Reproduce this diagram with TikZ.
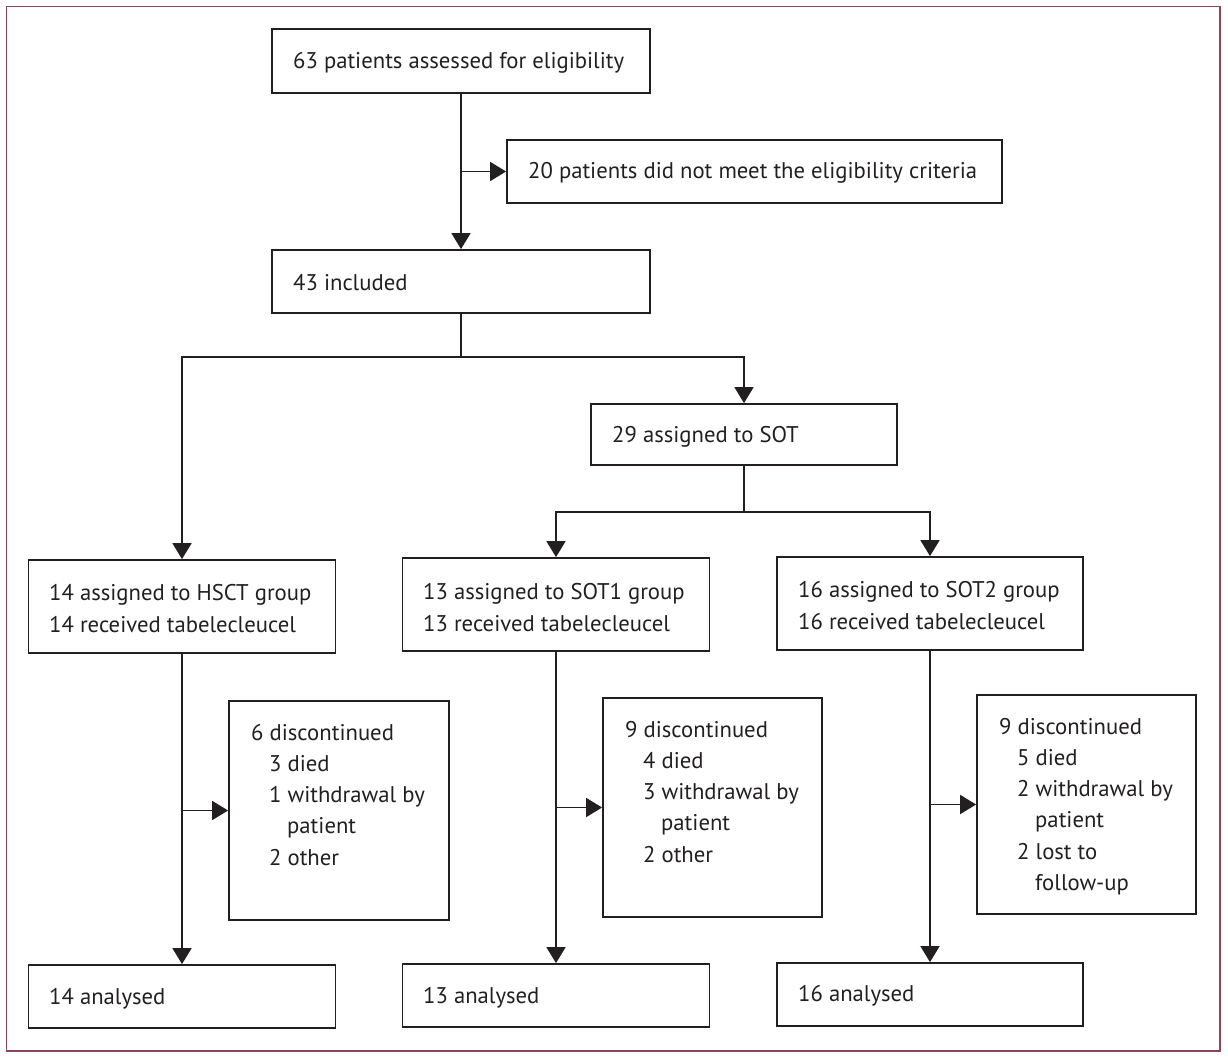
\documentclass[tikz,border=0pt]{standalone}
\usepackage{fontspec}
\setmainfont{PT Sans}
\usetikzlibrary{arrows.meta}
\definecolor{ink}{HTML}{231F20}
\definecolor{frame}{RGB}{140,70,90}
\tikzset{
  box/.style={draw=ink, line width=1.8pt, rectangle, inner sep=0pt},
  txt/.style={anchor=west, inner sep=0pt, text=ink, align=left, yshift=-2pt, font=\fontsize{22.7}{31.2}\selectfont},
  conn/.style={draw=ink, line width=1.8pt},
  arr/.style={conn, -{Triangle[length=16pt,width=19pt]}}
}
\newcommand{\ind}{\hspace*{18pt}}
\begin{document}
\begin{tikzpicture}[x=1pt,y=-1pt]
\useasboundingbox (0,0) rectangle (1228,1060);
\draw[frame, line width=1.2pt] (6.5,6.5) rectangle (1220,1051);
% boxes
\node[box, minimum width=378pt, minimum height=64pt] (top) at (461,61) {};
\node[txt] (ttop) at (293,61) {63 patients assessed for eligibility};
\node[box, minimum width=495pt, minimum height=63pt] (excl) at (754.5,171.5) {};
\node[txt] (texcl) at (528,171) {20 patients did not meet the eligibility criteria};
\node[box, minimum width=378pt, minimum height=63pt] (incl) at (461,281.5) {};
\node[txt] (tincl) at (293,281) {43 included};
\node[box, minimum width=306pt, minimum height=61pt] (sot) at (744,434.5) {};
\node[txt] (tsot) at (612,435) {29 assigned to SOT};
% groups
\node[box, minimum width=307pt, minimum height=93pt] (hsct) at (182,606.5) {};
\node[txt] (thsct) at (49,606.5) {14 assigned to HSCT group\\14 received tabelecleucel};
\node[box, minimum width=307pt, minimum height=93pt] (sot1) at (556,604.5) {};
\node[txt] (tsot1) at (423,605.5) {13 assigned to SOT1 group\\13 received tabelecleucel};
\node[box, minimum width=306pt, minimum height=93pt] (sot2) at (930,603.5) {};
\node[txt] (tsot2) at (798,603.5) {16 assigned to SOT2 group\\16 received tabelecleucel};
% discontinued
\node[box, minimum width=220pt, minimum height=219pt] (d1) at (339,810.5) {};
\node[txt, anchor=north west] (td1) at (251,722) {6 discontinued\\\ind 3 died\\\ind 1 withdrawal by\\\ind\ind patient\\\ind 2 other};
\node[box, minimum width=219pt, minimum height=219pt] (d2) at (712.5,807.5) {};
\node[txt, anchor=north west] (td2) at (625,719) {9 discontinued\\\ind 4 died\\\ind 3 withdrawal by\\\ind\ind patient\\\ind 2 other};
\node[box, minimum width=219pt, minimum height=219pt] (d3) at (1086.5,804.5) {};
\node[txt, anchor=north west] (td3) at (999,716) {9 discontinued\\\ind 5 died\\\ind 2 withdrawal by\\\ind\ind patient\\\ind 2 lost to\\\ind\ind follow-up};
% analysed
\node[box, minimum width=307pt, minimum height=63pt] (a1) at (182,996.5) {};
\node[txt] (ta1) at (49,997) {14 analysed};
\node[box, minimum width=307pt, minimum height=63pt] (a2) at (556,995.5) {};
\node[txt] (ta2) at (423,996) {13 analysed};
\node[box, minimum width=306pt, minimum height=63pt] (a3) at (930,994.5) {};
\node[txt] (ta3) at (798,994) {16 analysed};
% connectors
\draw[arr] (top.south) -- (incl.north);
\draw[arr] (top.south |- excl.west) -- (excl.west);
\coordinate (j1) at (461,357);
\draw[conn] (incl.south) -- (j1);
\draw[arr] (j1) -| (hsct.north);
\draw[arr] (j1) -| (sot.north);
\coordinate (j2) at (744,512);
\draw[conn] (sot.south) -- (j2);
\draw[arr] (j2) -| (sot1.north);
\draw[arr] (j2) -| (sot2.north);
\draw[arr] (hsct.south) -- (a1.north);
\draw[arr] (sot1.south) -- (a2.north);
\draw[arr] (sot2.south) -- (a3.north);
\draw[arr] (hsct.south |- d1.west) -- (d1.west);
\draw[arr] (sot1.south |- d2.west) -- (d2.west);
\draw[arr] (sot2.south |- d3.west) -- (d3.west);
\end{tikzpicture}
\end{document}
